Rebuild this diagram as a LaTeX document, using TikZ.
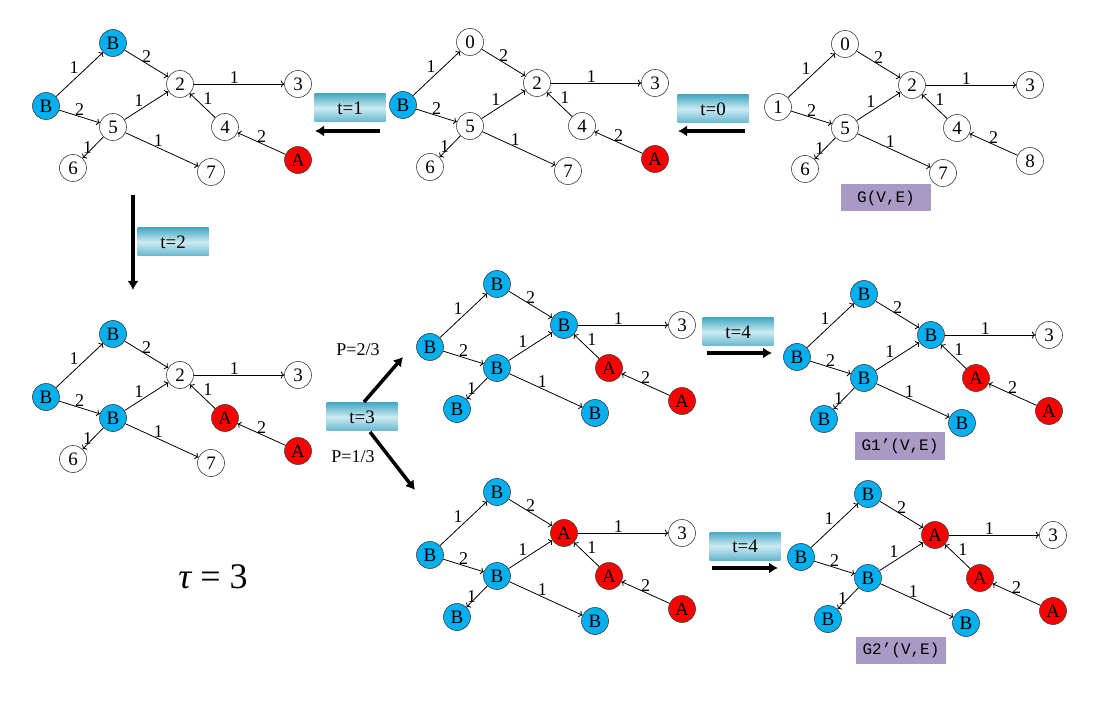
\documentclass[tikz,border=0pt]{standalone}
\usepackage{fontspec}
\setmainfont{Liberation Serif}
\newfontfamily\gvefont{Liberation Mono}
\usetikzlibrary{arrows.meta}

\definecolor{nodeblue}{RGB}{0,176,240}
\definecolor{nodered}{RGB}{255,0,0}
\definecolor{lavender}{RGB}{168,154,196}
\definecolor{tealdark}{RGB}{72,170,196}
\definecolor{teallight}{RGB}{205,234,242}

\tikzset{
    wnode/.style={circle, draw=black!75, line width=0.6pt, fill=white, minimum size=27pt, inner sep=0pt, font=\fontsize{19}{19}\selectfont},
    bnode/.style={wnode, fill=nodeblue},
    rnode/.style={wnode, fill=nodered},
    link/.style={->, line width=0.8pt},
    lab/.style={inner sep=0.5pt, font=\fontsize{18}{18}\selectfont},
    tbox/.style={minimum width=71pt, minimum height=28pt, inner sep=0pt, top color=tealdark, bottom color=tealdark!85!white, middle color=teallight, font=\fontsize{19}{19}\selectfont},
    gbox/.style={fill=lavender, minimum width=90pt, minimum height=27pt, inner sep=0pt, font=\gvefont\fontsize{16}{16}\selectfont},
    bigarrow/.style={line width=3.5pt, -{Latex[length=9pt,width=11pt]}}
}

% one copy of the graph: #1 name, #2 origin (vertex 1), #3 vertex/style/text
\newcommand{\netgraph}[3]{%
    \begin{scope}[shift={#2}]
        \foreach \v/\st/\lb in {#3} {
            \pgfmathsetmacro\px{{67,0,134,252,179,67,27,165,252}[\v]}
            \pgfmathsetmacro\py{{-63,0,-22,-22,21,21,62,66,54}[\v]}
            \node[\st] (#1-\v) at (\px,\py) {\lb};
        }
    \end{scope}
    \draw[link] (#1-1) -- node[lab, above left] {1} (#1-0);
    \draw[link] (#1-0) -- node[lab, above] {2} (#1-2);
    \draw[link] (#1-1) -- node[lab, above] {2} (#1-5);
    \draw[link] (#1-5) -- node[lab, above left, pos=0.45] {1} (#1-2);
    \draw[link] (#1-2) -- node[lab, above, pos=0.45] {1} (#1-3);
    \draw[link] (#1-4) -- node[lab, above right] {1} (#1-2);
    \draw[link] (#1-8) -- node[lab, above] {2} (#1-4);
    \draw[link] (#1-5) -- node[lab, left] {1} (#1-6);
    \draw[link] (#1-5) -- node[lab, above, pos=0.45] {1} (#1-7);
}

\begin{document}
\begin{tikzpicture}[x=1pt, y=-1pt]
    \useasboundingbox (0,0) rectangle (1106,708);

    \netgraph{gG}{(778,107)}{1/wnode/1, 0/wnode/0, 2/wnode/2, 3/wnode/3, 4/wnode/4, 5/wnode/5, 6/wnode/6, 7/wnode/7, 8/wnode/8}
    \netgraph{gt0}{(403,105)}{1/bnode/B, 0/wnode/0, 2/wnode/2, 3/wnode/3, 4/wnode/4, 5/wnode/5, 6/wnode/6, 7/wnode/7, 8/rnode/A}
    \netgraph{gt1}{(46,106)}{1/bnode/B, 0/bnode/B, 2/wnode/2, 3/wnode/3, 4/wnode/4, 5/wnode/5, 6/wnode/6, 7/wnode/7, 8/rnode/A}
    \netgraph{gt2}{(46,397)}{1/bnode/B, 0/bnode/B, 2/wnode/2, 3/wnode/3, 4/rnode/A, 5/bnode/B, 6/wnode/6, 7/wnode/7, 8/rnode/A}
    \netgraph{gt3p}{(430,347)}{1/bnode/B, 0/bnode/B, 2/bnode/B, 3/wnode/3, 4/rnode/A, 5/bnode/B, 6/bnode/B, 7/bnode/B, 8/rnode/A}
    \netgraph{gt4p}{(797,357)}{1/bnode/B, 0/bnode/B, 2/bnode/B, 3/wnode/3, 4/rnode/A, 5/bnode/B, 6/bnode/B, 7/bnode/B, 8/rnode/A}
    \netgraph{gt3q}{(430,555)}{1/bnode/B, 0/bnode/B, 2/rnode/A, 3/wnode/3, 4/rnode/A, 5/bnode/B, 6/bnode/B, 7/bnode/B, 8/rnode/A}
    \netgraph{gt4q}{(801,557)}{1/bnode/B, 0/bnode/B, 2/rnode/A, 3/wnode/3, 4/rnode/A, 5/bnode/B, 6/bnode/B, 7/bnode/B, 8/rnode/A}

    \node[gbox] (gve) at (886,198) {G(V,E)};
    \node[gbox] (gvep) at (900,446) {G1’(V,E)};
    \node[gbox] (gveq) at (901,650) {G2’(V,E)};

    \node[tbox] (tzero) at (713,109) {t=0};
    \node[tbox] (tone) at (350,108) {t=1};
    \node[tbox] (ttwo) at (173,242) {t=2};
    \node[tbox] (tthree) at (362,417) {t=3};
    \node[tbox] (tfourp) at (738,332) {t=4};
    \node[tbox] (tfourq) at (745,546) {t=4};

    \coordinate (azs) at (745,131); \coordinate (aze) at (678,131);
    \coordinate (aos) at (380,131); \coordinate (aoe) at (315,131);
    \coordinate (ats) at (133,195); \coordinate (ate) at (133,290);
    \coordinate (aps) at (364,402); \coordinate (ape) at (403,357);
    \coordinate (aqs) at (370,432); \coordinate (aqe) at (415,490);
    \coordinate (afs) at (707,353); \coordinate (afe) at (772,353);
    \coordinate (ags) at (712,568); \coordinate (age) at (778,568);
    \draw[bigarrow] (azs) -- (aze);
    \draw[bigarrow] (aos) -- (aoe);
    \draw[bigarrow] (ats) -- (ate);
    \draw[bigarrow] (aps) -- (ape);
    \draw[bigarrow] (aqs) -- (aqe);
    \draw[bigarrow] (afs) -- (afe);
    \draw[bigarrow] (ags) -- (age);

    \node[font=\fontsize{18}{18}\selectfont] (pup) at (358,350) {P=2/3};
    \node[font=\fontsize{18}{18}\selectfont] (pdown) at (353,457) {P=1/3};
    \node[font=\fontsize{36}{36}\selectfont] (tau) at (213,577) {{\itshape τ} = 3};
\end{tikzpicture}
\end{document}
